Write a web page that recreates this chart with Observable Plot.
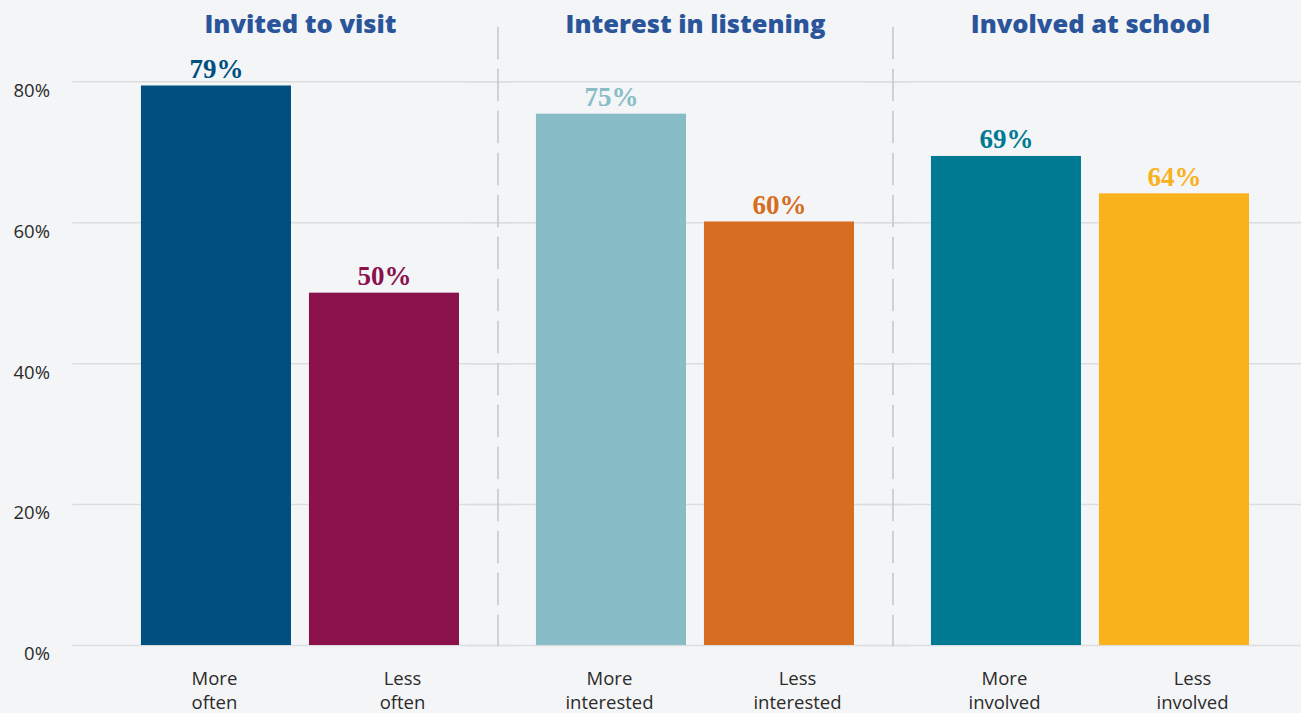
<!DOCTYPE html>
<html><head><meta charset="utf-8">
<script src="https://cdn.jsdelivr.net/npm/d3@7"></script>
<script src="https://cdn.jsdelivr.net/npm/@observablehq/plot@0.6"></script>
<style>
html,body{margin:0;padding:0;background:#f4f5f7;}
#chart{width:1301px;height:713px;overflow:hidden}
</style></head><body><div id="chart"></div>
<script>
const groups = ["Invited to visit", "Interest in listening", "Involved at school"];
const levels = ["More", "Less"];
const categoryLabels = ["More\noften", "Less\noften", "More\ninterested", "Less\ninterested", "More\ninvolved", "Less\ninvolved"];
const values = [79.4, 50, 75.4, 60.1, 69.4, 64.1];
const valueLabels = ["79%", "50%", "75%", "60%", "69%", "64%"];
const barColors = ["#00507f", "#8a114c", "#88bcc6", "#d66d21", "#007a93", "#f9b11c"];
const yTicks = [0, 20, 40, 60, 80];

const rows = values.map((v, i) => ({
  group: groups[Math.floor(i / 2)],
  level: levels[i % 2],
  value: v,
  label: valueLabels[i],
  category: categoryLabels[i],
  color: barColors[i]
}));

const chart = Plot.plot({
  width: 1301, height: 713,
  marginLeft: 75, marginRight: 0, marginTop: 27, marginBottom: 68,
  style: {background: "#f4f5f7", fontFamily: "'Open Sans', sans-serif", overflow: "visible"},
  fx: {domain: groups, paddingInner: 0, paddingOuter: 0.0519, align: 0.67, round: false, axis: null},
  x: {domain: levels, paddingInner: 0.107, paddingOuter: 0.229, round: false, axis: null},
  y: {domain: [0, 87.7]},
  marks: [
    Plot.ruleY(yTicks, {stroke: "#dcdde0", strokeWidth: 1.5, insetLeft: -30, insetRight: -16}),
    Plot.frame({fx: () => groups[1], anchor: "left", stroke: "#c6c6c6", strokeWidth: 1.5, strokeDasharray: "31,11"}),
    Plot.frame({fx: () => groups[2], anchor: "left", stroke: "#c6c6c6", strokeWidth: 1.5, strokeDasharray: "31,11"}),
    Plot.axisY({ticks: yTicks, tickFormat: d => d + "%", tickSize: 0, tickPadding: 53, dy: 9, fontSize: 18.5, fill: "#2b2b2b", label: null}),
    Plot.barY(rows, {fx: "group", x: "level", y: "value", fill: "color"}),
    Plot.text(rows, {fx: "group", x: "level", y: "value", text: "label", fill: "color", lineAnchor: "bottom", dy: -8, fontFamily: "'Liberation Serif', serif", fontWeight: "bold", fontSize: 27}),
    Plot.text(rows.filter(d => d.level === "More"), {fx: "group", x: "level", text: "category", frameAnchor: "bottom", lineAnchor: "top", dy: 22, dx: -2, fontSize: 18.5, lineHeight: 1.3, fill: "#2b2b2b"}),
    Plot.text(rows.filter(d => d.level === "Less"), {fx: "group", x: "level", text: "category", frameAnchor: "bottom", lineAnchor: "top", dy: 22, dx: 18, fontSize: 18.5, lineHeight: 1.3, fill: "#2b2b2b"}),
    Plot.text(groups, {fx: d => d, text: d => d, frameAnchor: "top", lineAnchor: "middle", dy: -3, fontFamily: "'Open Sans', sans-serif", fontWeight: 800, fontSize: 25.5, fill: "#2a559b"})
  ]
});
document.getElementById("chart").append(chart);
</script>
</body></html>
